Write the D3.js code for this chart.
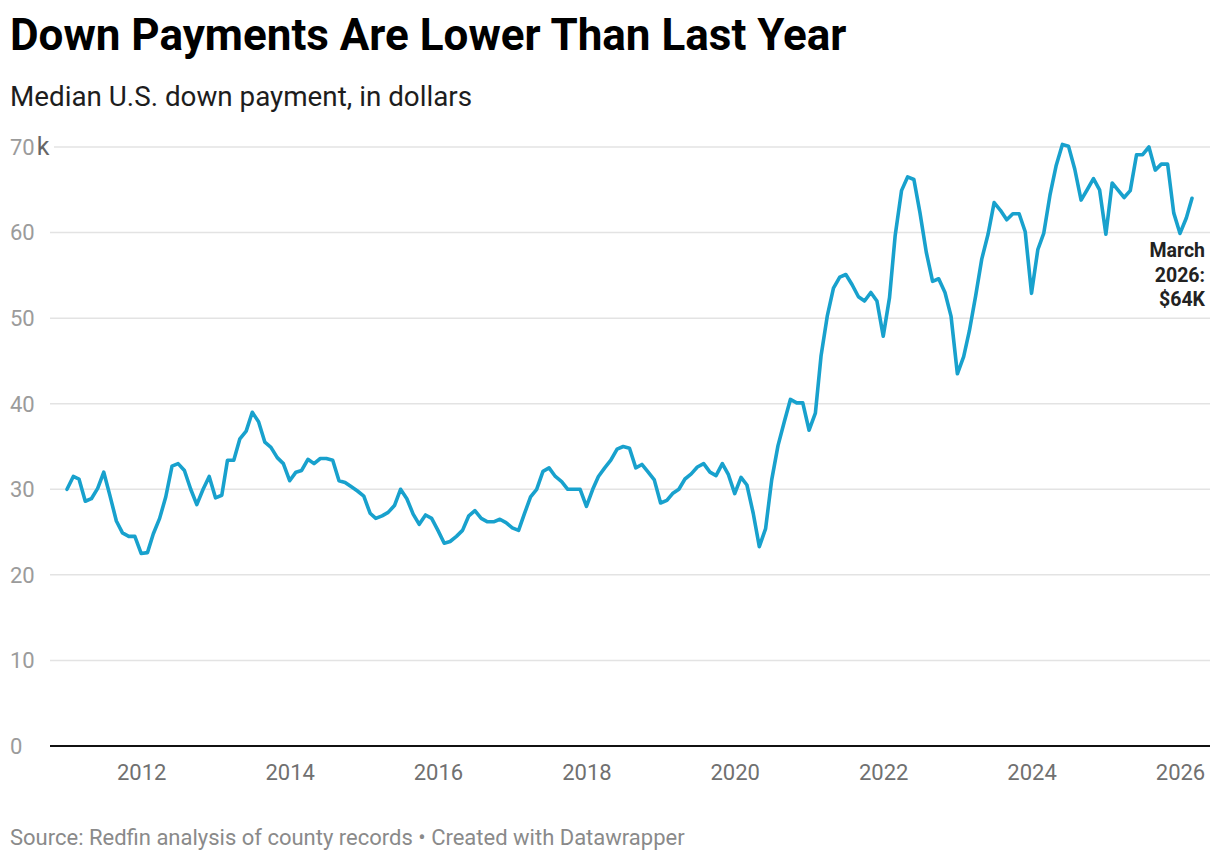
<!DOCTYPE html>
<html>
<head>
<meta charset="utf-8">
<script src="https://cdn.jsdelivr.net/npm/d3@7"></script>
<style>
  body { margin: 0; background: #fff; }
  svg { font-family: Roboto, "Noto Sans", sans-serif; display: block; }
</style>
</head>
<body>
<svg id="chart" width="1220" height="864"></svg>
<script>
// median down payment, thousands of dollars, one value per month (Jan..Dec)
const years = [2011, 2012, 2013, 2014, 2015, 2016, 2017, 2018, 2019, 2020, 2021, 2022, 2023, 2024, 2025, 2026];
const values2011 = [30.0, 31.5, 31.2, 28.6, 28.9, 30.1, 32.0, 29.2, 26.3, 24.9, 24.5, 24.5];
const values2012 = [22.5, 22.6, 24.8, 26.6, 29.1, 32.7, 33.0, 32.2, 30.0, 28.2, 30.0, 31.5];
const values2013 = [29.0, 29.3, 33.4, 33.4, 35.9, 36.8, 39.0, 37.9, 35.5, 34.9, 33.7, 33.0];
const values2014 = [31.0, 32.0, 32.2, 33.5, 33.0, 33.6, 33.6, 33.4, 31.0, 30.8, 30.3, 29.8];
const values2015 = [29.2, 27.2, 26.6, 26.9, 27.3, 28.1, 30.0, 28.9, 27.1, 25.9, 27.0, 26.6];
const values2016 = [25.2, 23.7, 23.9, 24.5, 25.2, 26.9, 27.5, 26.6, 26.2, 26.2, 26.5, 26.1];
const values2017 = [25.5, 25.2, 27.1, 29.1, 30.0, 32.1, 32.5, 31.5, 30.9, 30.0, 30.0, 30.0];
const values2018 = [28.0, 30.0, 31.5, 32.5, 33.4, 34.7, 35.0, 34.8, 32.5, 32.9, 32.0, 31.1];
const values2019 = [28.4, 28.7, 29.5, 30.0, 31.2, 31.8, 32.6, 33.0, 32.0, 31.6, 33.0, 31.7];
const values2020 = [29.5, 31.4, 30.5, 27.2, 23.3, 25.4, 31.1, 35.1, 37.9, 40.5, 40.1, 40.1];
const values2021 = [36.9, 38.9, 45.6, 50.3, 53.5, 54.8, 55.1, 53.9, 52.5, 52.0, 53.0, 52.0];
const values2022 = [47.9, 52.4, 59.7, 64.9, 66.5, 66.2, 62.3, 57.7, 54.3, 54.6, 53.0, 50.2];
const values2023 = [43.5, 45.5, 48.5, 52.6, 56.9, 59.8, 63.5, 62.6, 61.5, 62.2, 62.2, 60.1];
const values2024 = [52.9, 58.0, 59.9, 64.4, 67.8, 70.3, 70.1, 67.4, 63.8, 65.0, 66.3, 65.0];
const values2025 = [59.8, 65.8, 65.0, 64.1, 64.9, 69.1, 69.1, 70.0, 67.3, 68.0, 68.0, 62.3];
const values2026 = [59.9, 61.7, 64.0];

const yTicks = [0, 10, 20, 30, 40, 50, 60, 70];
const xTickYears = [2012, 2014, 2016, 2018, 2020, 2022, 2024, 2026];
const annotationLines = ["March", "2026:", "$64K"];

const byYear = [values2011, values2012, values2013, values2014, values2015, values2016, values2017,
  values2018, values2019, values2020, values2021, values2022, values2023, values2024, values2025, values2026];

const data = [];
years.forEach((yr, i) => {
  byYear[i].forEach((v, m) => data.push({ date: new Date(yr, m, 1), value: v }));
});

const svg = d3.select("#chart");
const lineColor = "#18a1cd";

const x = d3.scaleTime()
  .domain([new Date(2011, 0, 1), new Date(2026, 2, 1)])
  .range([67, 1192]);

const y = d3.scaleLinear()
  .domain([0, 70])
  .range([746, 147]);

// title block
svg.append("text")
  .attr("x", 10).attr("y", 50)
  .attr("font-size", 44).attr("font-weight", 700)
  .attr("fill", "#000")
  .text("Down Payments Are Lower Than Last Year");

svg.append("text")
  .attr("x", 10).attr("y", 106)
  .attr("font-size", 27.8)
  .attr("fill", "#1d1d1d")
  .text("Median U.S. down payment, in dollars");

// gridlines + y labels
const grid = svg.append("g");
grid.selectAll("line")
  .data(yTicks.filter(d => d > 0))
  .join("line")
  .attr("x1", d => d === 70 ? 54 : 50)
  .attr("x2", 1210)
  .attr("y1", d => y(d)).attr("y2", d => y(d))
  .attr("stroke", "#e3e3e3")
  .attr("stroke-width", 1.5);

const ylab = svg.append("g")
  .selectAll("text")
  .data(yTicks)
  .join("text")
  .attr("x", 10)
  .attr("y", d => y(d))
  .attr("dy", "0.36em")
  .attr("font-size", 22)
  .attr("fill", "#9b9b9b");
ylab.append("tspan").text(d => d);
ylab.filter(d => d === 70).append("tspan")
  .attr("dx", 2)
  .attr("font-size", 25).attr("fill", "#666")
  .text("k");

// baseline
svg.append("line")
  .attr("x1", 50).attr("x2", 1210)
  .attr("y1", y(0)).attr("y2", y(0))
  .attr("stroke", "#111")
  .attr("stroke-width", 2);

// x axis
const xAxis = svg.append("g")
  .attr("transform", `translate(0,${y(0)})`)
  .call(d3.axisBottom(x)
    .tickValues(xTickYears.map(yr => new Date(yr, 0, 1)))
    .tickFormat(d3.timeFormat("%Y"))
    .tickSize(0)
    .tickPadding(18));
xAxis.select(".domain").remove();
xAxis.selectAll("text")
  .attr("font-family", "Roboto, sans-serif")
  .attr("font-size", 22)
  .attr("fill", "#707070");

// line
const line = d3.line()
  .x(d => x(d.date))
  .y(d => y(d.value));

svg.append("path")
  .datum(data)
  .attr("d", line)
  .attr("fill", "none")
  .attr("stroke", lineColor)
  .attr("stroke-width", 3.6)
  .attr("stroke-linejoin", "round")
  .attr("stroke-linecap", "round");

// annotation for the last point
const last = data[data.length - 1];
svg.append("text")
  .attr("x", 1205)
  .attr("y", y(last.value) + 59)
  .attr("text-anchor", "end")
  .attr("font-size", 19.5)
  .attr("font-weight", 700)
  .attr("fill", "#222")
  .selectAll("tspan")
  .data(annotationLines)
  .join("tspan")
  .attr("x", 1205)
  .attr("dy", (d, i) => i === 0 ? 0 : 24.5)
  .text(d => d);

// footer
svg.append("text")
  .attr("x", 10).attr("y", 845)
  .attr("font-size", 22)
  .attr("fill", "#8a8a8a")
  .text("Source: Redfin analysis of county records \u2022 Created with Datawrapper");
</script>
</body>
</html>
